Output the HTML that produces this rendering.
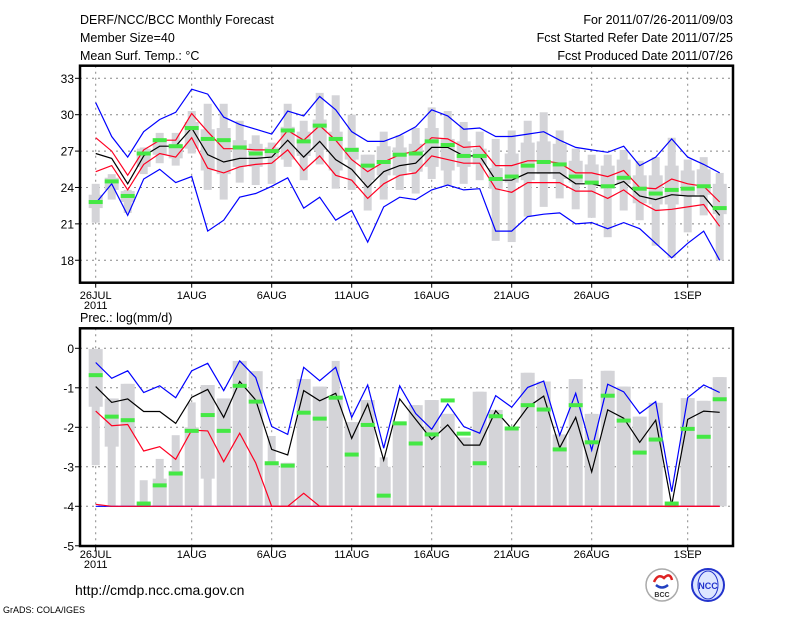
<!DOCTYPE html>
<html><head><meta charset="utf-8"><style>
body{margin:0;background:#fff;width:800px;height:618px;overflow:hidden}
svg{display:block;font-family:"Liberation Sans",sans-serif}
</style></head><body>
<svg id="chart" width="800" height="618" xmlns="http://www.w3.org/2000/svg">
<g font-size="12.5" fill="#000">
<text x="80" y="24">DERF/NCC/BCC Monthly Forecast</text>
<text x="80" y="42">Member Size=40</text>
<text x="80" y="60">Mean Surf. Temp.: °C</text>
<text x="733" y="24" text-anchor="end">For 2011/07/26-2011/09/03</text>
<text x="733" y="42" text-anchor="end">Fcst Started Refer Date 2011/07/25</text>
<text x="733" y="60" text-anchor="end">Fcst Produced Date 2011/07/26</text>
</g>
<text x="80" y="322" font-size="12.5">Prec.: log(mm/d)</text>
<g id="top"></g>
<g id="bot"></g>
<text x="75" y="595" font-size="14">http://cmdp.ncc.cma.gov.cn</text>
<text x="3" y="613" font-size="9">GrADS: COLA/IGES</text>
<g>
<circle cx="662" cy="585" r="16" fill="#fff" stroke="#aaa" stroke-width="1.5"/>
<path d="M654 582 q4 -9 10 -4 q6 -6 8 2" fill="none" stroke="#d22" stroke-width="2.5"/>
<path d="M656 585 q6 5 12 0" fill="none" stroke="#2240c0" stroke-width="2.5"/>
<text x="662" y="597" font-size="7" text-anchor="middle" font-weight="bold" fill="#333">BCC</text>
</g>
<g>
<circle cx="708" cy="585" r="16" fill="#dde6ff" stroke="#2233cc" stroke-width="2"/>
<ellipse cx="708" cy="585" rx="10" ry="14" fill="none" stroke="#2233cc" stroke-width="1"/>
<text x="708" y="589" font-size="9" text-anchor="middle" font-weight="bold" fill="#2233cc">NCC</text>
</g>
</svg>
<script>
// ---- temperature data (°C) ----
const tMax   =[31.0,28.2,26.5,28.6,29.6,30.2,32.1,31.7,29.8,29.2,28.8,28.4,30.3,29.9,31.5,30.4,28.6,27.8,27.8,28.3,29.0,30.4,29.9,28.8,28.9,28.2,28.2,28.4,28.6,27.9,27.3,27.1,26.9,27.4,25.8,26.5,28.0,26.5,25.9,25.2];
const tUpper =[28.1,27.0,25.0,27.1,27.9,27.9,30.1,28.6,27.2,27.2,27.1,27.1,28.7,27.9,29.1,27.9,26.3,25.3,26.1,26.7,27.0,28.1,28.0,27.3,27.4,25.8,25.8,26.2,26.2,26.0,25.2,25.2,24.9,25.4,24.0,23.9,24.7,24.3,24.1,22.8];
const tMean  =[26.8,26.4,24.3,26.6,27.4,27.4,28.9,26.7,26.1,26.4,26.4,26.5,27.9,26.5,27.8,26.3,25.5,24.0,25.3,25.8,26.0,27.3,27.3,26.6,26.6,24.6,24.6,25.2,25.2,25.2,24.3,24.3,24.0,24.5,23.3,23.0,23.4,23.3,23.3,21.7];
const tLower =[25.3,25.8,23.8,25.9,26.8,26.5,28.1,25.6,25.2,25.7,25.9,26.0,27.1,25.4,26.6,25.0,24.6,23.1,24.3,25.0,25.2,26.6,26.3,26.0,26.0,23.9,23.6,24.4,24.4,24.4,23.7,23.7,23.1,23.8,22.8,22.1,22.2,22.4,22.6,20.8];
const tMin   =[22.7,24.3,21.7,24.7,25.5,24.4,24.9,20.4,21.3,23.2,23.5,24.1,24.8,22.3,23.2,21.3,22.1,19.5,22.4,23.2,23.0,23.8,24.2,23.8,23.9,20.4,20.4,21.6,21.8,21.9,21.0,21.1,20.6,21.1,20.6,19.4,18.2,19.4,20.4,18.0];
const tObs   =[22.8,24.5,23.3,26.8,27.9,27.4,28.9,28.0,27.9,27.3,26.8,27.0,28.7,27.8,29.1,28.0,27.1,25.8,26.1,26.7,26.8,27.8,27.5,26.6,26.6,24.7,24.9,25.8,26.1,25.9,24.9,24.4,24.1,24.8,23.9,23.5,23.8,23.9,24.1,22.3];
const tBarHi =[24.3,25.1,23.8,27.3,28.5,28.5,30.3,30.9,30.9,29.5,28.3,27.7,30.9,29.5,31.8,31.6,30.0,26.7,28.6,28.3,28.9,30.6,30.3,29.4,28.6,28.0,28.7,29.5,30.2,28.7,27.2,26.7,26.7,27.1,26.2,26.5,28.1,26.3,26.5,25.2];
const tBarLo =[21.1,23.0,21.9,25.1,26.0,25.8,26.8,23.8,23.0,24.4,24.2,24.3,25.7,24.6,25.9,23.9,23.8,22.1,23.0,23.8,23.5,24.7,24.2,24.3,24.6,19.6,19.5,21.6,22.4,23.1,22.2,21.5,19.9,22.1,21.3,19.2,18.2,20.3,21.7,18.0];
const tBoxHi =[23.4,24.8,23.7,27.2,27.9,27.6,29.4,28.8,28.9,27.9,27.6,27.3,29.0,28.6,29.6,28.6,27.3,26.7,27.4,27.3,27.6,28.9,28.0,27.8,27.2,25.6,26.8,27.7,27.8,27.6,26.2,25.9,25.8,26.3,25.0,25.0,25.8,25.4,25.5,24.3];
const tBoxLo =[22.3,23.8,22.8,25.7,26.7,26.4,27.2,25.4,25.1,25.7,25.7,26.5,26.3,26.6,27.1,25.4,26.3,24.6,25.0,25.0,25.3,25.7,25.4,25.7,25.9,23.9,24.4,24.6,25.1,24.7,24.4,24.3,23.9,24.3,22.7,22.6,22.6,23.3,23.4,21.8];
const tTicks =[33,30,27,24,21,18];
// ---- precipitation data (log mm/d) ----
const pMax   =[-0.36,-0.76,-0.57,-1.12,-0.95,-1.25,-0.57,-0.38,-1.07,-0.32,-0.74,-1.98,-2.18,-0.48,-0.82,-0.48,-1.75,-0.93,-2.53,-0.95,-1.65,-2.05,-1.41,-1.98,-2.15,-1.2,-1.49,-0.99,-0.83,-2.2,-1.14,-2.58,-0.91,-1.1,-1.65,-1.35,-3.63,-1.25,-0.93,-1.12];
const pMean  =[-0.97,-1.37,-1.28,-1.6,-1.6,-1.9,-1.24,-1.04,-1.75,-0.84,-1.31,-2.56,-2.7,-1.07,-1.33,-1.14,-2.28,-1.41,-2.83,-1.28,-1.8,-2.31,-1.94,-2.45,-2.45,-1.58,-2.04,-1.49,-1.21,-2.52,-1.75,-3.13,-1.56,-1.77,-2.38,-1.82,-3.97,-1.8,-1.59,-1.62];
const pUpper =[-1.59,-1.96,-1.93,-2.6,-2.49,-2.81,-2.07,-2.09,-2.87,-2.15,-2.9,-4,-4,-3.67,-4,-4,-4,-4,-4,-4,-4,-4,-4,-4,-4,-4,-4,-4,-4,-4,-4,-4,-4,-4,-4,-4,-4,-4,-4,-4];
const pLower =[-3.95,-4,-4,-4,-4,-4,-4,-4,-4,-4,-4,-4,-4,-4,-4,-4,-4,-4,-4,-4,-4,-4,-4,-4,-4,-4,-4,-4,-4,-4,-4,-4,-4,-4,-4,-4,-4,-4,-4,-4];
const pMin   =[-4,-4,-4,-4,-4,-4,-4,-4,-4,-4,-4,-4,-4,-4,-4,-4,-4,-4,-4,-4,-4,-4,-4,-4,-4,-4,-4,-4,-4,-4,-4,-4,-4,-4,-4,-4,-4,-4,-4,-4];
const pObs   =[-0.68,-1.73,-1.82,-3.93,-3.47,-3.17,-2.09,-1.69,-2.09,-0.95,-1.35,-2.91,-2.97,-1.63,-1.78,-1.25,-2.69,-1.94,-3.73,-1.9,-2.41,-2.18,-1.32,-2.16,-2.91,-1.72,-2.03,-1.44,-1.55,-2.56,-1.44,-2.38,-1.2,-1.83,-2.64,-2.31,-3.93,-2.04,-2.24,-1.29];
const pBarHi =[-0.02,-1.27,-0.9,-3.34,-2.8,-2.2,-1.37,-0.93,-1.27,-0.32,-0.58,-2.22,-2.9,-0.78,-0.97,-0.32,-1.87,-1.31,-2.76,-1.9,-1.44,-1.31,-1.66,-2.26,-1.1,-1.56,-2.03,-0.62,-0.84,-2.18,-0.78,-1.66,-0.57,-0.97,-1.73,-1.38,-4,-1.26,-1.33,-0.73];
const pBarLo =[-2.96,-4,-4,-4,-4,-4,-4,-4,-4,-4,-4,-4,-4,-4,-4,-4,-4,-4,-4,-4,-4,-4,-4,-4,-4,-4,-4,-4,-4,-4,-4,-4,-4,-4,-4,-4,-4,-4,-4,-4];
const pBoxHi =[-0.02,-1.27,-0.9,-3.9,-3.3,-3.1,-2.0,-0.93,-1.27,-0.32,-0.58,-2.9,-2.9,-0.78,-0.97,-1.2,-1.87,-1.31,-3.0,-1.9,-1.44,-1.31,-1.66,-2.26,-1.1,-1.56,-2.03,-0.62,-0.84,-2.18,-0.78,-1.66,-0.57,-0.97,-1.73,-1.38,-4,-1.26,-1.33,-0.73];
const pBoxLo =[-1.48,-2.49,-4,-4,-4,-4,-4,-3.3,-4,-4,-4,-4,-4,-4,-4,-4,-4,-4,-4,-4,-4,-4,-4,-4,-4,-4,-4,-4,-4,-4,-4,-4,-4,-4,-4,-4,-4,-4,-4,-4];
const pTicks =[0,-1,-2,-3,-4,-5];
const dateLabels=["26JUL","1AUG","6AUG","11AUG","16AUG","21AUG","26AUG","1SEP"];
const dateIdx=[0,6,11,16,21,26,31,37];

const NS="http://www.w3.org/2000/svg";
const X0=80,X1=733;
function xS(d){return 95.7+16*d;}
function yT(v){return 78.3+(33-v)*12.13;}
function yP(v){return 348.3-v*39.5;}
function mk(parent,tag,at){const e=document.createElementNS(NS,tag);for(const k in at)e.setAttribute(k,at[k]);parent.appendChild(e);return e;}

function panel(g,top,bot,ys,ticks,bars,boxes,obs,lines,labelY){
  // grid
  ticks.forEach(t=>{const y=ys(t);if(y>top+2&&y<bot-2){
    const l=mk(g,'line',{x1:X0,x2:X1,y1:y,y2:y,stroke:'#888','stroke-dasharray':'2,4','stroke-width':1});
    
    }});
  dateIdx.forEach(d=>{const l=mk(g,'line',{x1:xS(d),x2:xS(d),y1:top,y2:bot,stroke:'#888','stroke-dasharray':'2,4','stroke-width':1});
    
    });
  // whiskers and boxes
  for(let i=0;i<bars[0].length;i++){
    const a=ys(bars[0][i]),b=ys(bars[1][i]);
    const r=mk(g,'rect',{x:xS(i)-4,y:Math.min(a,b),width:8,height:Math.max(1,Math.abs(b-a)),fill:'#d4d4d8'});
    
    
    const c=ys(boxes[0][i]),e=ys(boxes[1][i]);
    const r2=mk(g,'rect',{x:xS(i)-7,y:Math.min(c,e),width:14,height:Math.max(1,Math.abs(e-c)),fill:'#d4d4d8'});
    
    
  }
  lines.forEach(([arr,col,nm])=>{
    const p=mk(g,'polyline',{points:arr.map((v,i)=>xS(i).toFixed(1)+','+ys(v).toFixed(1)).join(' '),fill:'none',stroke:col,'stroke-width':1.2});
    
    
  });
  obs.forEach((v,i)=>{const r=mk(g,'rect',{x:xS(i)-7,y:ys(v)-2,width:14,height:4,fill:'#44e844'});
    
    });
  // frame
  const f=mk(g,'rect',{x:X0,y:top,width:X1-X0,height:bot-top,fill:'none',stroke:'#000','stroke-width':2.5});
  
  
  ticks.forEach(t=>{const y=ys(t);
    mk(g,'line',{x1:X0-5,x2:X0,y1:y,y2:y,stroke:'#000'});
    const tx=mk(g,'text',{x:X0-6,y:y+4.5,'font-size':12,'text-anchor':'end'});tx.textContent=t;
    
    });
  dateLabels.forEach((s,k)=>{const x=xS(dateIdx[k]);
    mk(g,'line',{x1:x,x2:x,y1:bot,y2:bot+5,stroke:'#000'});
    const tx=mk(g,'text',{x:x,y:labelY,'font-size':11,'text-anchor':'middle'});tx.textContent=s;
    
    });
  const yr=mk(g,'text',{x:xS(0),y:labelY+10,'font-size':11,'text-anchor':'middle'});yr.textContent='2011';
  
  
}
panel(document.getElementById('top'),65.7,282.7,yT,tTicks,[tBarHi,tBarLo],[tBoxHi,tBoxLo],tObs,
  [[tMax,'#0000ff','max-line'],[tMin,'#0000ff','min-line'],[tUpper,'#ff0022','upper-line'],[tLower,'#ff0022','lower-line'],[tMean,'#000','mean-line']],299);
panel(document.getElementById('bot'),328.3,546,yP,pTicks,[pBarHi,pBarLo],[pBoxHi,pBoxLo],pObs,
  [[pMax,'#0000ff','max-line'],[pMin,'#0000ff','min-line'],[pUpper,'#ff0022','upper-line'],[pLower,'#ff0022','lower-line'],[pMean,'#000','mean-line']],558);
</script>
</body></html>
